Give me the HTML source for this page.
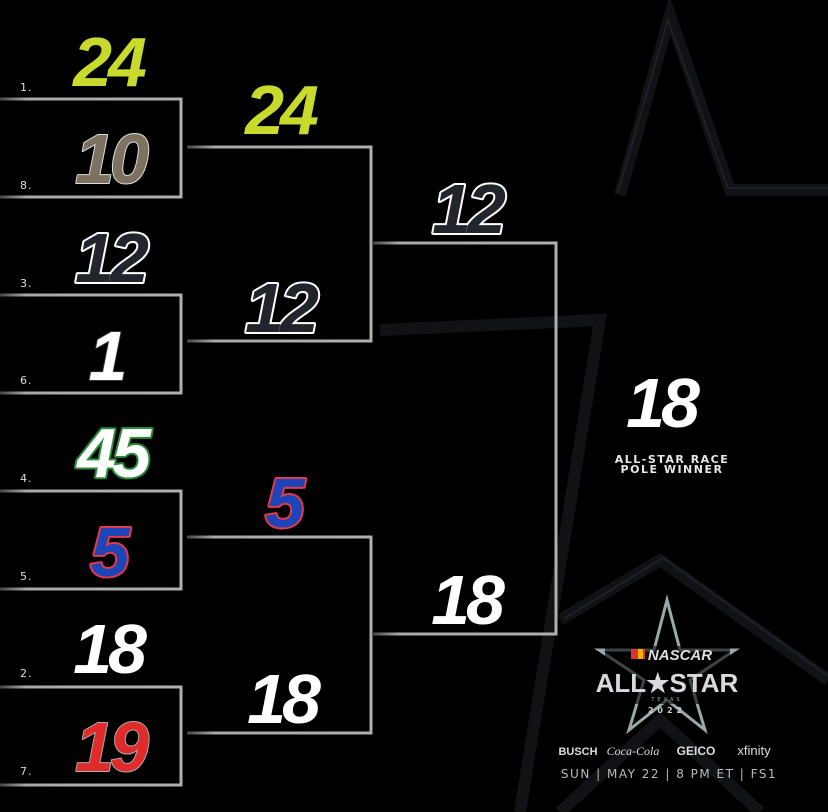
<!DOCTYPE html>
<html><head><meta charset="utf-8"><style>
html,body{margin:0;padding:0;background:#000;}
svg{display:block}
.n{font-family:"Liberation Sans",sans-serif;font-weight:bold;font-style:italic;font-size:70px;text-anchor:middle;paint-order:stroke;stroke-linejoin:round;letter-spacing:-4px}
.s{font-family:"DejaVu Sans",sans-serif;font-size:11px;fill:#ddd;letter-spacing:1px}
</style></head><body>
<svg width="828" height="812" viewBox="0 0 828 812" xmlns="http://www.w3.org/2000/svg">
<defs>
<linearGradient id="fl" x1="0" x2="1"><stop offset="0" stop-color="#444"/><stop offset="0.15" stop-color="#aaa"/><stop offset="1" stop-color="#b0b0b0"/></linearGradient>
</defs>
<rect width="828" height="812" fill="#000"/>
<!-- faint background star -->
<g fill="none" stroke="#101215" stroke-width="12">
<polyline points="620,195 670,15 730,190 828,190"/>
<polyline points="560,620 660,560 828,680"/>
<polyline points="560,812 660,720 760,812"/>
<polyline points="380,330 600,320 520,812"/>
</g>
<g fill="none" stroke="#1d2026" stroke-width="2">
<polyline points="618,192 668,20 728,188 828,188"/>
<polyline points="565,618 663,558 828,676"/>
</g>
<g fill="none" stroke="#a8a8a8" stroke-width="3">
<polyline points="0,99 181,99 181,197 0,197" stroke="url(#fl)"/>
<polyline points="0,295 181,295 181,393 0,393" stroke="url(#fl)"/>
<polyline points="0,491 181,491 181,589 0,589" stroke="url(#fl)"/>
<polyline points="0,687 181,687 181,785 0,785" stroke="url(#fl)"/>
<polyline points="187,147 371,147 371,341 187,341" stroke="url(#fl)"/>
<polyline points="187,537 371,537 371,733 187,733" stroke="url(#fl)"/>
<polyline points="372,243 556,243 556,634 372,634" stroke="url(#fl)"/>
<line x1="563" y1="439" x2="777" y2="439" stroke="url(#fl)"/>
</g>
<g class="s">
<text x="20" y="91">1.</text><text x="20" y="189">8.</text>
<text x="20" y="287">3.</text><text x="20" y="384">6.</text>
<text x="20" y="482">4.</text><text x="20" y="580">5.</text>
<text x="20" y="677">2.</text><text x="20" y="775">7.</text>
</g>
<g class="n">
<text x="108" y="86" fill="#c8db2c">24</text>
<text x="110" y="183" fill="#7d7160" stroke="#ddd" stroke-width="2">10</text>
<text x="110" y="282" fill="#22252b" stroke="#fff" stroke-width="4">12</text>
<text x="106" y="380" fill="#fff" stroke="#333" stroke-width="2">1</text>
<text x="112" y="477" fill="#fff" stroke="#2a8a3a" stroke-width="4">45</text>
<text x="108" y="576" fill="#1d45b8" stroke="#e23a4a" stroke-width="4">5</text>
<text x="108" y="673" fill="#fff">18</text>
<text x="110" y="771" fill="#e12b2b" stroke="#aaa" stroke-width="2">19</text>
<text x="280" y="134" fill="#c8db2c">24</text>
<text x="280" y="332" fill="#22252b" stroke="#fff" stroke-width="4">12</text>
<text x="283" y="527" fill="#1d45b8" stroke="#e23a4a" stroke-width="4">5</text>
<text x="282" y="723" fill="#fff">18</text>
<text x="467" y="233" fill="#22252b" stroke="#fff" stroke-width="4">12</text>
<text x="466" y="624" fill="#fff">18</text>
<text x="661" y="427" fill="#fff">18</text>
</g>
<g font-family="DejaVu Sans,sans-serif" fill="#e8e8e8" text-anchor="middle" font-size="11" letter-spacing="1.5" font-weight="bold">
<text x="672" y="463">ALL-STAR RACE</text>
<text x="672" y="473">POLE WINNER</text>
</g>
<!-- logo -->
<polygon points="667,600 680,650 735,650 690,680 705,730 667,700 629,730 644,680 599,650 654,650" fill="none" stroke="#9aa" stroke-width="3"/>
<rect x="605" y="646" width="125" height="58" fill="#000" opacity="0.6"/>
<text x="680" y="660" font-family="Liberation Sans,sans-serif" font-weight="bold" font-style="italic" font-size="15" fill="#ddd" text-anchor="middle">NASCAR</text>
<rect x="631" y="649" width="14" height="10" fill="#d33"/><rect x="638" y="649" width="5" height="10" fill="#f0b000"/>
<text x="667" y="692" font-family="Liberation Sans,sans-serif" font-weight="bold" font-size="26" fill="#d8dadd" text-anchor="middle">ALL★STAR</text>
<text x="667" y="701" font-family="DejaVu Sans,sans-serif" font-size="5" fill="#aaa" text-anchor="middle" letter-spacing="3">TEXAS</text>
<text x="667" y="713" font-family="DejaVu Sans,sans-serif" font-weight="bold" font-size="8" fill="#ccc" text-anchor="middle" letter-spacing="4">2022</text>
<g font-family="Liberation Sans,sans-serif" fill="#ddd" text-anchor="middle">
<text x="578" y="755" font-size="11" font-weight="bold">BUSCH</text>
<text x="633" y="755" font-size="12" font-style="italic" font-family="Liberation Serif,serif">Coca-Cola</text>
<text x="696" y="755" font-size="12" font-weight="bold">GEICO</text>
<text x="754" y="755" font-size="13">xfinity</text>
<text x="669" y="778" font-size="12" font-family="DejaVu Sans,sans-serif" letter-spacing="1.5" fill="#bbb">SUN | MAY 22 | 8 PM ET | FS1</text>
</g>
</svg>
</body></html>
